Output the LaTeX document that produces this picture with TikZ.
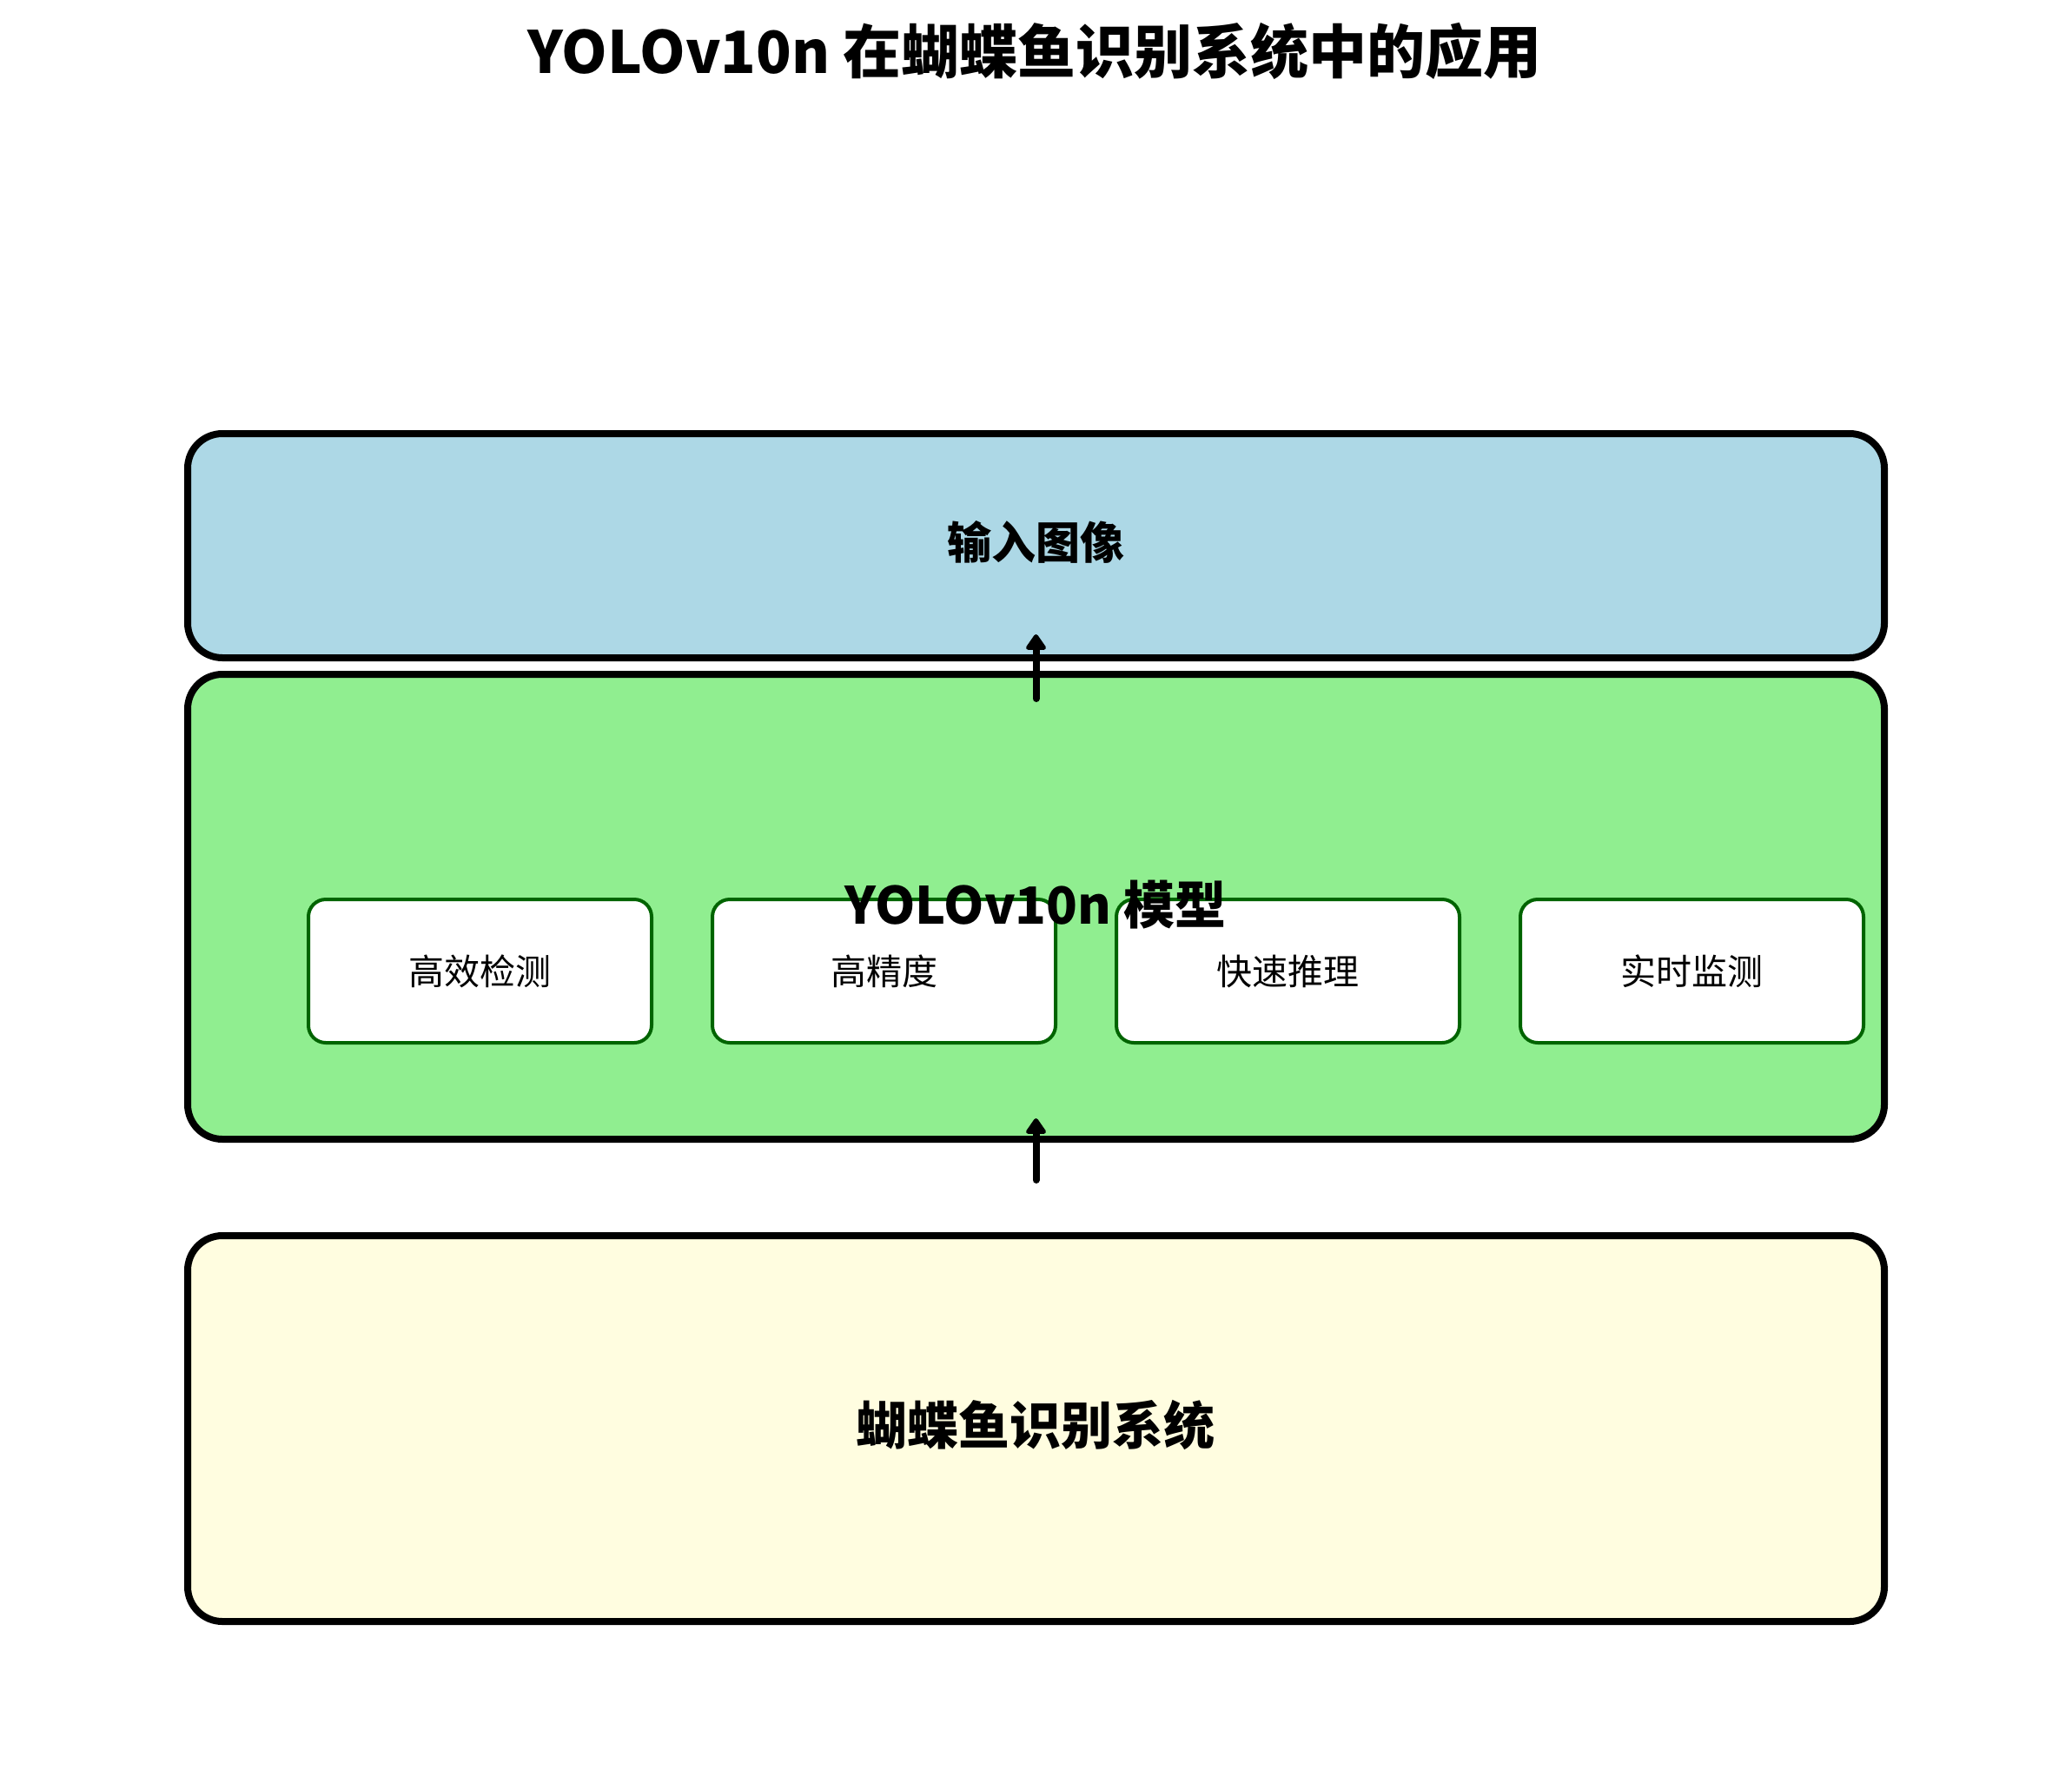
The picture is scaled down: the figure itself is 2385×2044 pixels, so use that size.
\documentclass[tikz,border=0pt]{standalone}
\usepackage{fontspec}
\setmainfont{Noto Sans CJK SC}
\usetikzlibrary{arrows.meta}
\definecolor{inblue}{HTML}{ADD8E6}
\definecolor{modgreen}{HTML}{90EE90}
\definecolor{sysyellow}{HTML}{FFFDE0}
\definecolor{featgreen}{HTML}{006400}
\tikzset{
  layerbox/.style={draw=black, line width=4pt, rounded corners=20pt, inner sep=0pt,
    minimum width=976.5pt},
  featbox/.style={draw=featgreen, fill=white, line width=2pt, rounded corners=10pt,
    inner sep=0pt, minimum width=197.5pt, minimum height=82.5pt, font=\fontsize{20.5}{24}\selectfont},
  flowarrow/.style={line width=4pt, line cap=round, -{Triangle[width=13pt,length=10pt,round]}},
  layerlabel/.style={font=\bfseries\fontsize{29.5}{34}\selectfont, inner sep=0pt},
}
\begin{document}
\begin{tikzpicture}[x=0.5pt,y=-0.5pt]
\useasboundingbox (0,0) rectangle (2385,2044);
\node[font=\bfseries\fontsize{33.5}{40}\selectfont, inner sep=0pt] (title) at (1191,59) {YOLOv10n 在蝴蝶鱼识别系统中的应用};

\node[layerbox, fill=inblue, minimum height=129pt] (input) at (1192.5,628) {};
\node[layerbox, fill=modgreen, minimum height=267.5pt] (model) at (1192.5,1043.5) {};
\node[layerbox, fill=sysyellow, minimum height=222pt] (system) at (1192.5,1644) {};

\node[featbox] (f1) at (552.5,1117.5) {高效检测};
\node[featbox] (f2) at (1017.5,1117.5) {高精度};
\node[featbox] (f3) at (1482.5,1117.5) {快速推理};
\node[featbox] (f4) at (1947.5,1117.5) {实时监测};

\node[layerlabel, font=\bfseries\fontsize{25.5}{30}\selectfont] (inlabel) at (1192,624) {输入图像};
\node[layerlabel] (modlabel) at (1192,1041) {YOLOv10n 模型};
\node[layerlabel] (syslabel) at (1192,1640) {蝴蝶鱼识别系统};

\coordinate (a1s) at ([yshift=-16pt]model.north);
\coordinate (a1e) at ([yshift=15.5pt]input.south);
\coordinate (a2s) at ([yshift=30pt]system.north);
\coordinate (a2e) at ([yshift=14pt]model.south);
\draw[flowarrow] (a1s) -- (a1e);
\draw[flowarrow] (a2s) -- (a2e);
\end{tikzpicture}
\end{document}
